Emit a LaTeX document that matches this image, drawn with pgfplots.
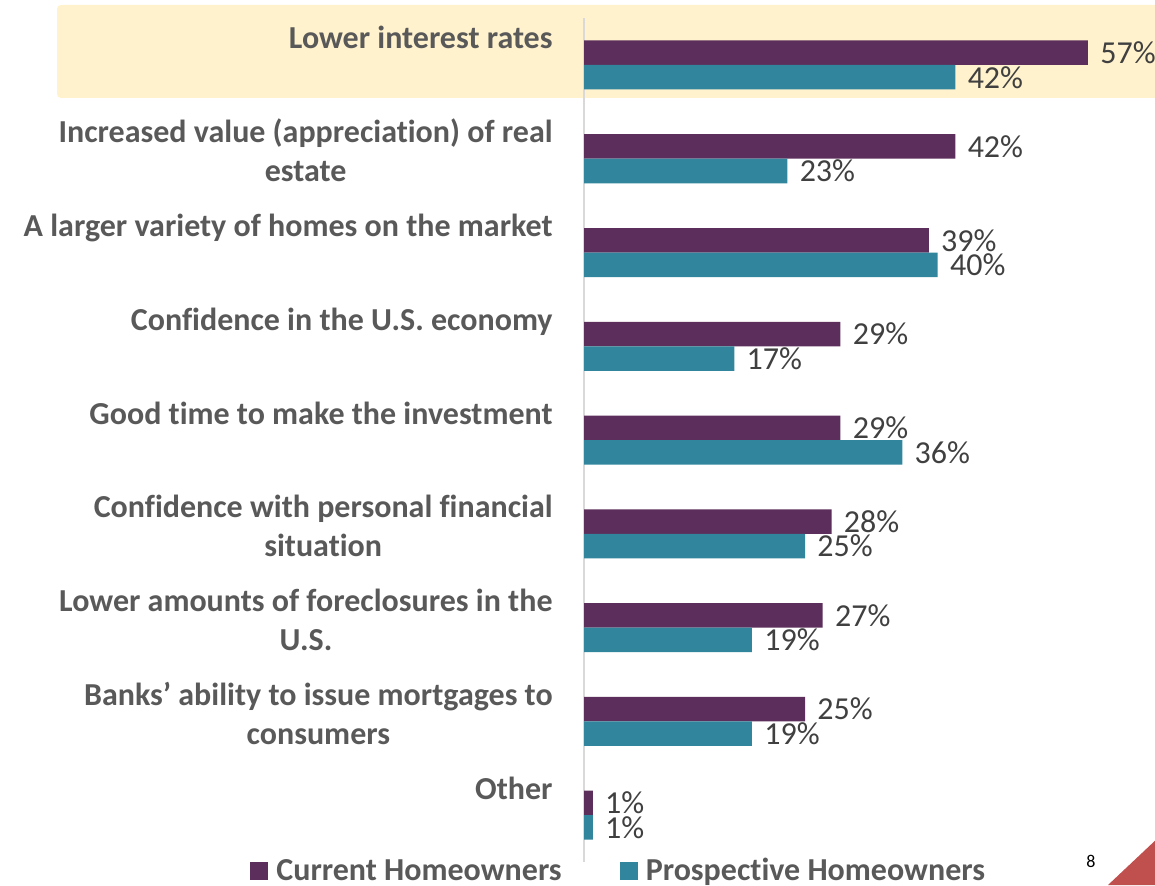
\documentclass[border=0pt]{standalone}
\usepackage{pgfplots}
\pgfplotsset{compat=1.18}
\usepackage{pgfplotstable}
\usepackage{fontspec}
\setmainfont{Carlito}[Ligatures={NoCommon,NoContextual}]
\definecolor{cur}{HTML}{5C2E5B}
\definecolor{pro}{HTML}{31859C}
\definecolor{lab}{HTML}{595959}
\definecolor{val}{HTML}{404040}
\definecolor{band}{HTML}{FFF2CC}
\definecolor{tri}{HTML}{C0504D}

\tikzset{lbl/.style={anchor=base east, align=center, inner sep=0pt,
     font=\fontsize{16}{19.5}\selectfont\bfseries, text=lab,
     xshift=-15.5pt, yshift=8pt},
  lbltwo/.style={lbl, yshift=-19.5pt}}

\pgfplotstableread{
y cur pro
8 57 42
7 42 23
6 39 40
5 29 17
4 29 36
3 28 25
2 27 19
1 25 19
0 1 1
}\data

\begin{document}
\begin{tikzpicture}
\begin{scope}[x=0.5pt,y=-0.5pt,shift={(0,442.5pt)}]
\fill[band, rounded corners=2pt] (57,5) rectangle (1170,98);
\node[font=\fontsize{9}{10}\selectfont, inner sep=0pt] at (1091,861) {8};
\fill[tri] (1108,885) -- (1160,885) -- (1160,836) -- cycle;
\end{scope}

\begin{axis}[
  at={(292pt,11.55pt)}, anchor=south west,
  scale only axis, width=265.25pt, height=421.9pt,
  xmin=0, xmax=60, ymin=-0.5, ymax=8.5,
  hide axis, clip=false,
  xbar, bar width=12.25pt,
  /pgf/number format/assume math mode=true,
  nodes near coords={\pgfmathprintnumber{\pgfplotspointmeta}\%},
  every node near coord/.append style={anchor=west, inner sep=0pt, xshift=6pt,
     font=\fontsize{16}{18}\selectfont, text=val},
  legend image code/.code={\fill[#1] (0pt,-4.5pt) rectangle (9pt,4.5pt); \path (11pt,0pt);},
  legend columns=2,
  legend style={at={(-0.6296,-0.011)}, anchor=west, draw=none, fill=none,
     inner sep=0pt, font=\fontsize{16}{18}\selectfont\bfseries, text=lab,
     /tikz/every even column/.append style={column sep=27pt}},
]
\draw[color=black!15, line width=1pt] (axis cs:0,8.5) -- (axis cs:0,-0.5);
\addplot[fill=cur, draw=none, bar shift=6.125pt] table[x=cur, y=y]{\data};
\addlegendentry{Current Homeowners}
\addplot[fill=pro, draw=none, bar shift=-6.125pt] table[x=pro, y=y]{\data};
\addlegendentry{Prospective Homeowners}

\node[lbl] at (axis cs:0,8) {Lower interest rates};
\node[lbltwo] at (axis cs:0,7) {Increased value (appreciation) of real\\estate};
\node[lbl] at (axis cs:0,6) {A larger variety of homes on the market};
\node[lbl] at (axis cs:0,5) {Confidence in the U.S. economy};
\node[lbl] at (axis cs:0,4) {Good time to make the investment};
\node[lbltwo] at (axis cs:0,3) {Confidence with personal financial\\situation};
\node[lbltwo] at (axis cs:0,2) {Lower amounts of foreclosures in the\\U.S.};
\node[lbltwo] at (axis cs:0,1) {Banks’ ability to issue mortgages to\\consumers};
\node[lbl] at (axis cs:0,0) {Other};
\end{axis}
\pgfresetboundingbox
\path[use as bounding box] (0,0) rectangle (577.5pt,442.5pt);
\end{tikzpicture}
\end{document}
